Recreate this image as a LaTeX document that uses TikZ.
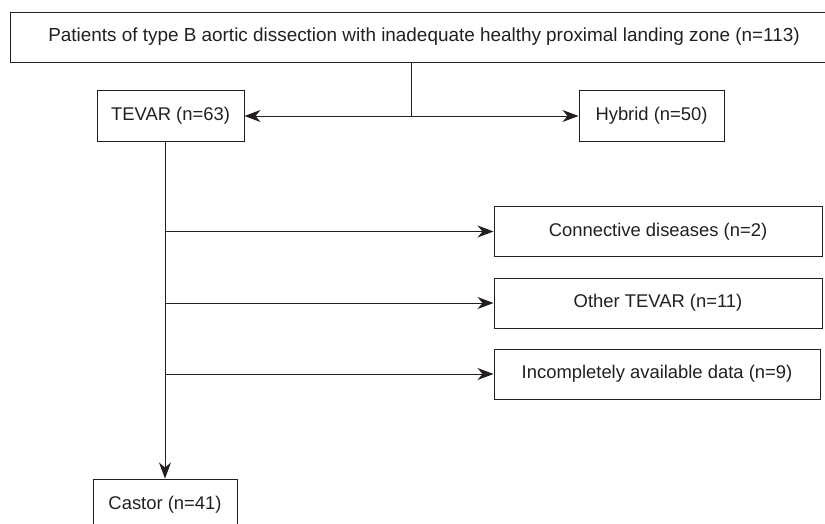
\documentclass[tikz,border=0pt]{standalone}
\usepackage{fontspec}
\setmainfont{Liberation Sans}
\usetikzlibrary{arrows.meta}
\definecolor{ink}{HTML}{231F20}
\begin{document}
\begin{tikzpicture}[x=1pt,y=-1pt,
  box/.style={draw=ink,line width=1pt,rectangle,inner sep=0pt,text=ink,
    font=\fontsize{18.4pt}{22pt}\selectfont,minimum height=50pt},
  link/.style={draw=ink,line width=1pt},
  arr/.style={link,-{Stealth[length=16pt,width=12pt,inset=5pt]}}]
\useasboundingbox (0,0) rectangle (825,523);
\node[box,minimum width=828pt,font=\fontsize{18.9pt}{22pt}\selectfont] (top) at (424,37) {Patients of type B aortic dissection with inadequate healthy proximal landing zone (n=113)};
\node[box,minimum width=147pt,minimum height=51pt] (tevar) at (170.5,116) {TEVAR (n=63)};
\node[box,minimum width=145pt,minimum height=51pt] (hybrid) at (651.5,116) {Hybrid (n=50)};
\node[box,minimum width=328pt] (conn) at (658,231.5) {Connective diseases (n=2)};
\node[box,minimum width=328pt] (other) at (658,303) {Other TEVAR (n=11)};
\node[box,minimum width=326pt] (inc) at (657,374) {Incompletely available data (n=9)};
\node[box,minimum width=144pt,minimum height=52pt] (castor) at (165,505) {Castor (n=41)};
\coordinate (split) at (411,116);
\draw[link] (top.south -| split) -- (split);
\draw[arr] (split) -- (tevar.east);
\draw[arr] (split) -- (hybrid.west);
\draw[arr] (tevar.south -| castor.north) -- (castor.north);
\draw[arr] (conn.west -| castor.north) -- (conn.west);
\draw[arr] (other.west -| castor.north) -- (other.west);
\draw[arr] (inc.west -| castor.north) -- (inc.west);
\end{tikzpicture}
\end{document}
